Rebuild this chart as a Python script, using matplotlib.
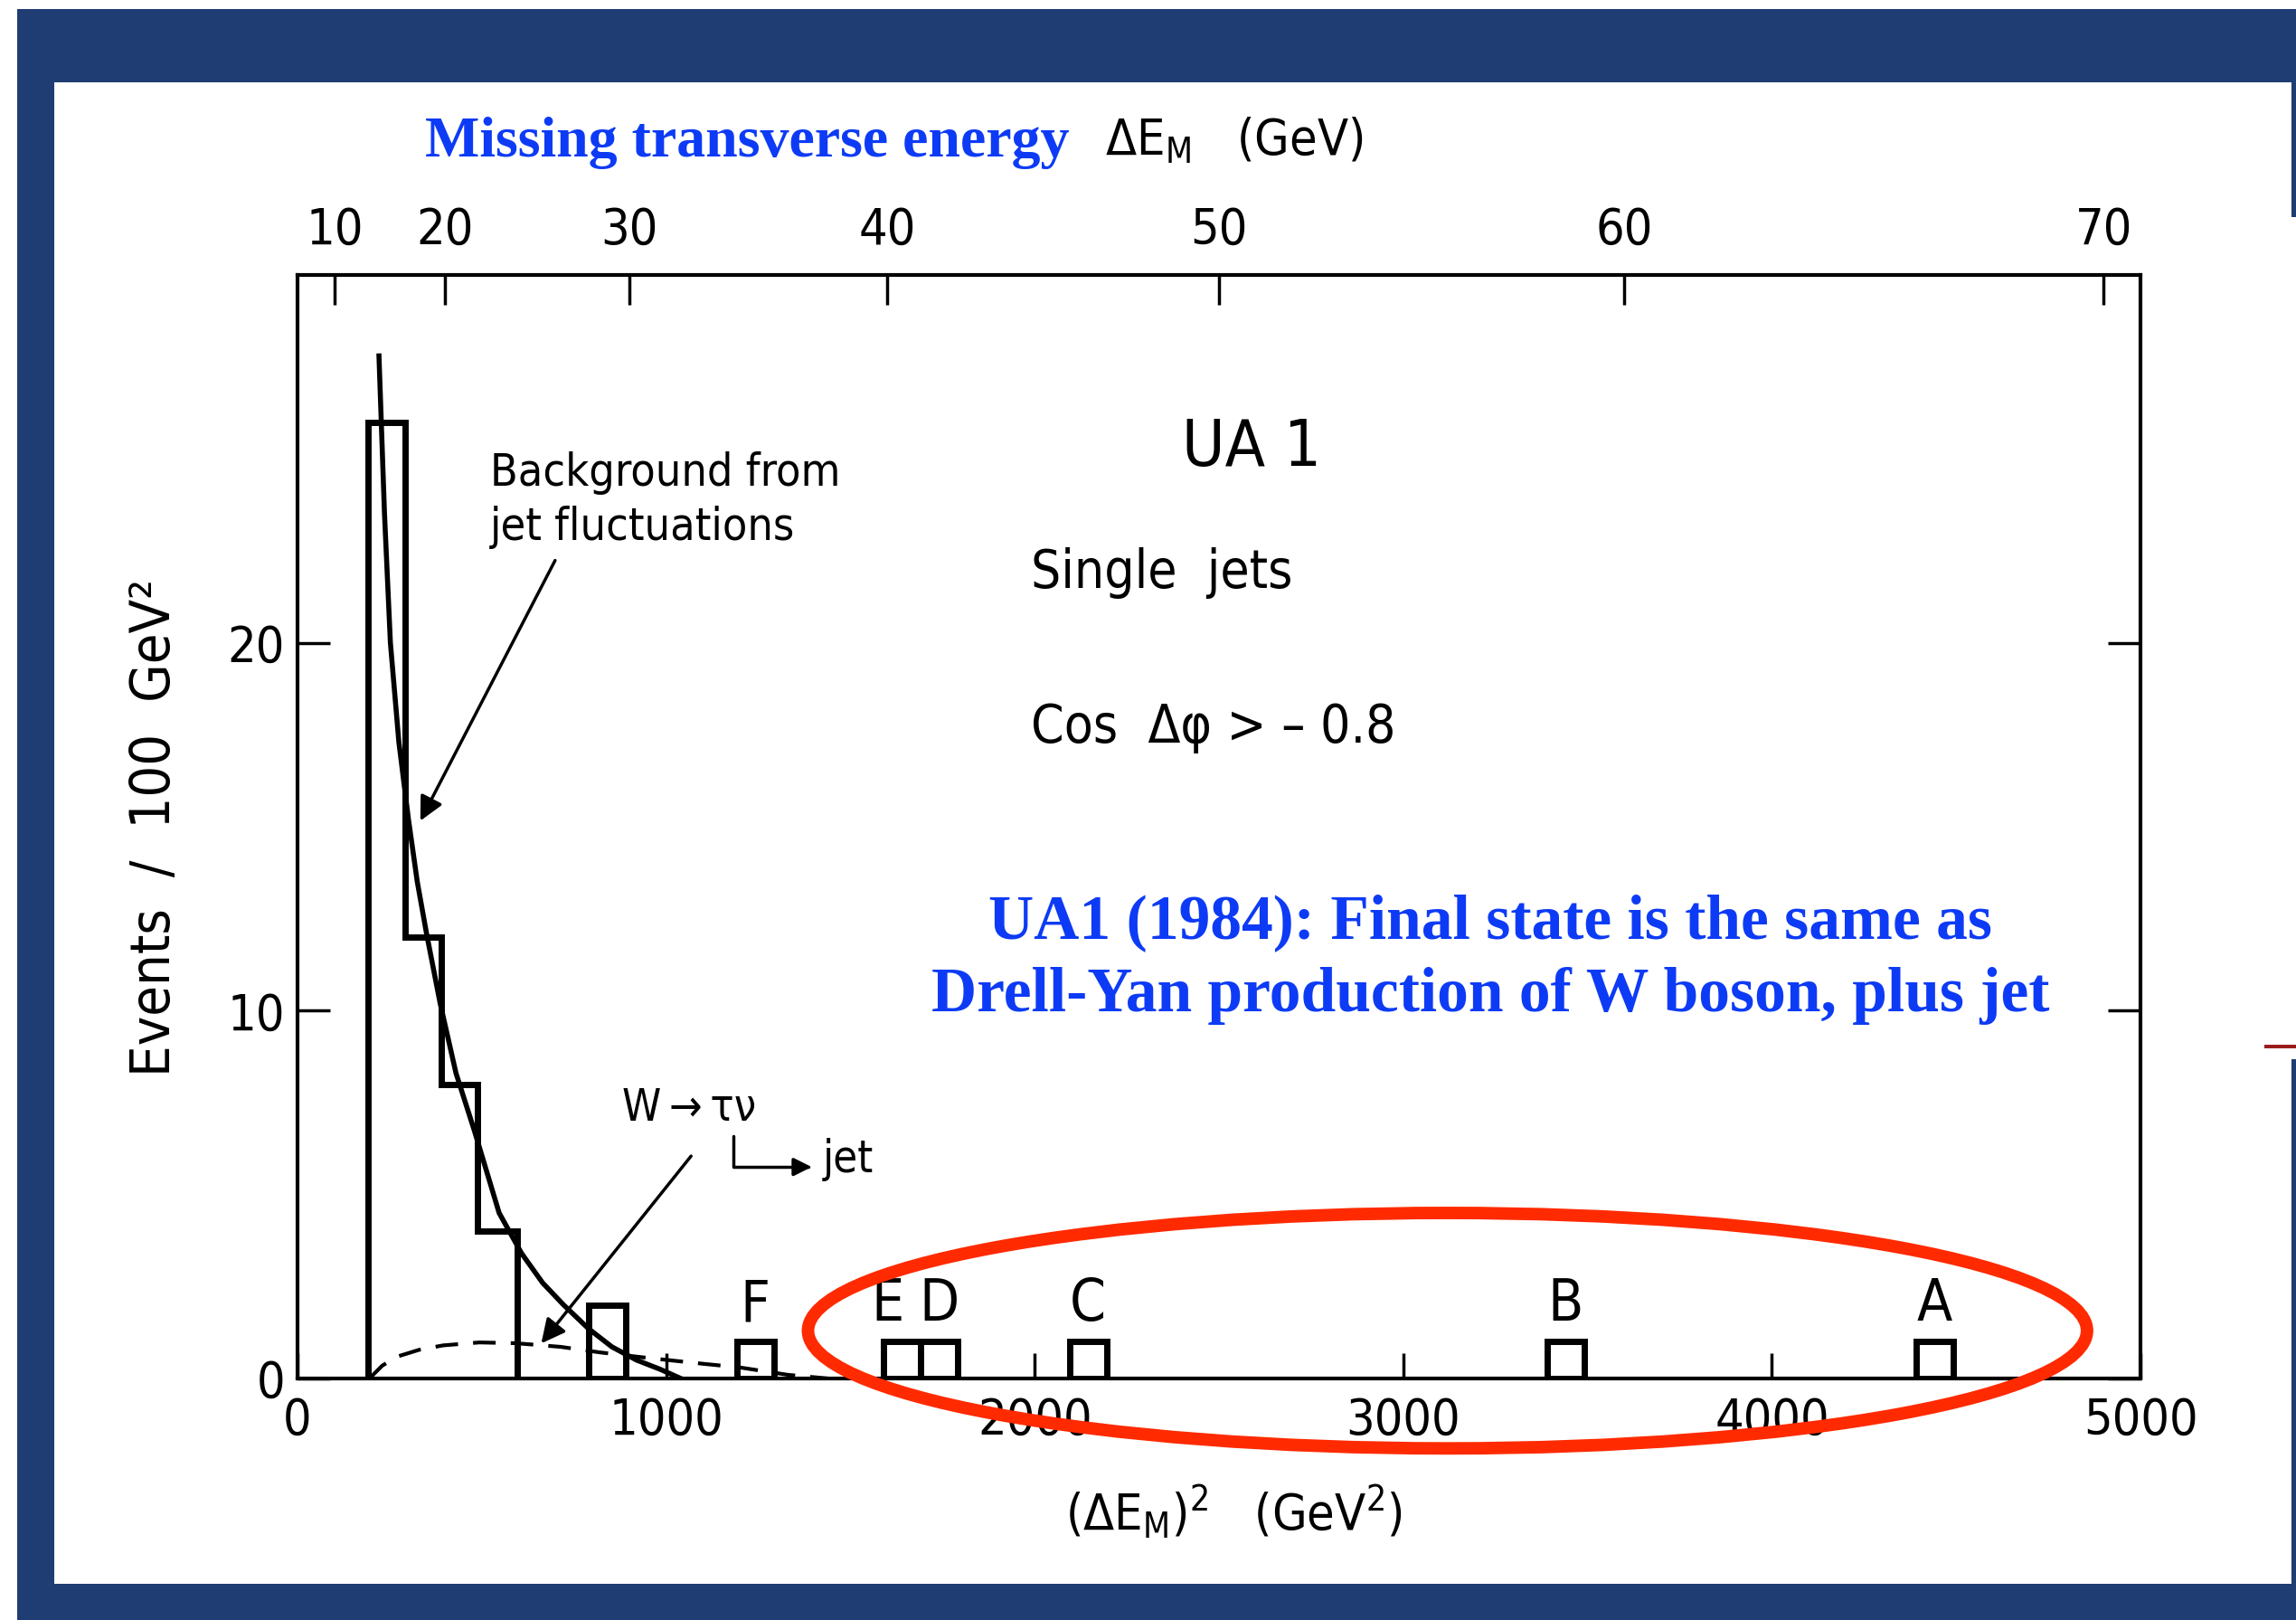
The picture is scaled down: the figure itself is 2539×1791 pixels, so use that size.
import numpy as np
import matplotlib
matplotlib.use("Agg")
import matplotlib.pyplot as plt
from matplotlib.patches import Rectangle, Ellipse

W, H = 2539, 1791  # output size in pixels

# histogram (events / 100 GeV^2)
bg_edges = [192, 293, 390, 488, 595]
bg_counts = [26, 12, 8, 4]
ev_left = [790, 1192, 1590, 1690, 2095, 3390, 4392]
ev_counts = [2, 1, 1, 1, 1, 1, 1]
ev_labels = ['', 'F', 'E', 'D', 'C', 'B', 'A']
bin_w = 100

# curves: jet-fluctuation background (solid) and W -> tau nu (dashed)
jet_x = [221, 236, 252, 275, 301, 325, 350, 387, 430, 481, 547, 608, 665, 722, 790, 853, 920, 984, 1040]
jet_y = [27.8, 23.5, 20.0, 17.3, 15.2, 13.5, 12.1, 10.2, 8.3, 6.7, 4.5, 3.4, 2.6, 2.0, 1.35, 0.86, 0.5, 0.25, 0.0]
tau_x = [195, 230, 272, 330, 395, 493, 591, 714, 820, 950, 1100, 1200, 1330, 1440]
tau_y = [0.0, 0.35, 0.6, 0.78, 0.9, 0.98, 0.96, 0.86, 0.71, 0.56, 0.40, 0.30, 0.10, 0.0]

x_ticks = [0, 1000, 2000, 3000, 4000, 5000]
y_ticks = [0, 10, 20]
top_ticks = [10, 20, 30, 40, 50, 60, 70]

navy = '#1F3D73'
blue = '#0D3BF5'
red = '#FF2A00'

plt.rcParams['font.family'] = 'DejaVu Sans'
plt.rcParams['font.stretch'] = 'condensed'
plt.rcParams['mathtext.fontset'] = 'dejavusans'

fig = plt.figure(figsize=(W / 100, H / 100), dpi=100)
fig.patch.set_facecolor('white')


def px(x0, y0, x1, y1, color):
    # rectangle given in pixel coords (y down)
    r = Rectangle((x0 / W, 1 - y1 / H), (x1 - x0) / W, (y1 - y0) / H,
                  transform=fig.transFigure, facecolor=color, edgecolor='none', zorder=-10)
    fig.add_artist(r)


# slide frame
px(19, 10, W, H, navy)
px(60, 91, 2534, 1751, 'white')
px(2534, 240, W, 1171, 'white')
px(2504, 1155, W, 1159, '#9B1B1B')

ax = fig.add_axes([329 / W, 1 - 1524 / H, (2367 - 329) / W, (1524 - 304) / H])
ax.set_facecolor('white')
ax.set_xlim(0, 5000)
ax.set_ylim(0, 30)

ax.stairs(bg_counts, bg_edges, baseline=0, color='k', lw=5, zorder=3)
ax.bar(ev_left, ev_counts, width=bin_w, align='edge', fill=False, edgecolor='k', lw=5, zorder=3)
for x, c, lab in zip(ev_left, ev_counts, ev_labels):
    if lab:
        shift = -40 if lab == 'E' else 0  # E sits a little left of its box
        ax.text(x + bin_w / 2 + shift, c + 0.25, lab, ha='center', va='bottom', fontsize=46)

ax.plot(jet_x, jet_y, color='k', lw=4, zorder=4)
ax.plot(tau_x, tau_y, color='k', lw=3, linestyle=(0, (6, 4)), zorder=4)

for s in ax.spines.values():
    s.set_linewidth(3)
ax.set_xticks(x_ticks)
ax.set_yticks(y_ticks)
ax.tick_params(direction='in', length=20, width=2.5, labelsize=40, pad=14, right=True)
ax.tick_params(axis='y', length=26, pad=10)

secax = ax.secondary_xaxis('top', functions=(lambda v: np.sqrt(np.clip(v, 0, None)), np.square))
secax.set_xticks(top_ticks)
secax.tick_params(direction='in', length=24, width=2.5, labelsize=40, pad=16)

# annotations from the original figure
ax.text(522, 25.2, 'Background from\njet fluctuations', fontsize=36, va='top', ha='left', linespacing=1.3)
ax.annotate('', xy=(330, 15.1), xytext=(702, 22.3),
            arrowprops=dict(arrowstyle='-|>', lw=2.5, color='k', mutation_scale=40))
ax.text(881, 7.35, 'W\u2009\u2192\u2009\u03c4\u03bd', fontsize=35, va='center', ha='left')
ax.annotate('', xy=(1395, 5.75), xytext=(1183, 6.6),
            arrowprops=dict(arrowstyle='-|>', lw=2.5, color='k', mutation_scale=30,
                            connectionstyle='angle,angleA=90,angleB=0,rad=0', shrinkA=0, shrinkB=0))
ax.text(1425, 5.95, 'jet', fontsize=35, va='center', ha='left')
ax.annotate('', xy=(657, 0.9), xytext=(1072, 6.1),
            arrowprops=dict(arrowstyle='-|>', lw=2.5, color='k', mutation_scale=40))

ax.text(2400, 25.3, 'UA 1', fontsize=52, va='center', ha='left')
ax.text(1990, 21.9, 'Single  jets', fontsize=42, va='center', ha='left')
ax.text(1990, 17.7, 'Cos  \u0394\u03c6 > \u2013 0.8', fontsize=42, va='center', ha='left')

ax.add_patch(Ellipse((3120, 1.3), 3470, 6.4, fill=False, edgecolor=red, lw=10,
                     clip_on=False, zorder=6))

# slide text
fig.text(1648 / W, 1 - 1020 / H, 'UA1 (1984): Final state is the same as', ha='center', va='center',
         fontsize=50, family='Liberation Serif', weight='bold', color=blue)
fig.text(1648 / W, 1 - 1101 / H, 'Drell-Yan production of W boson, plus jet', ha='center', va='center',
         fontsize=50, family='Liberation Serif', weight='bold', color=blue)
fig.text(470 / W, 1 - 173 / H, 'Missing transverse energy', ha='left', va='baseline',
         fontsize=46, family='Liberation Serif', weight='bold', color=blue)
fig.text(1222 / W, 1 - 171 / H, r'$\Delta\mathregular{E_M}$   (GeV)', ha='left', va='baseline', fontsize=40)

fig.text(1365 / W, 1 - 1672 / H, r'$(\Delta\mathregular{E_M})^2$   (GeV$^2$)', ha='center', va='center', fontsize=40)
fig.text(171 / W, 1 - 915 / H, 'Events  /  100  GeV\u00b2', rotation=90, ha='center', va='center', fontsize=44)

fig.savefig('out.png', dpi=100)
